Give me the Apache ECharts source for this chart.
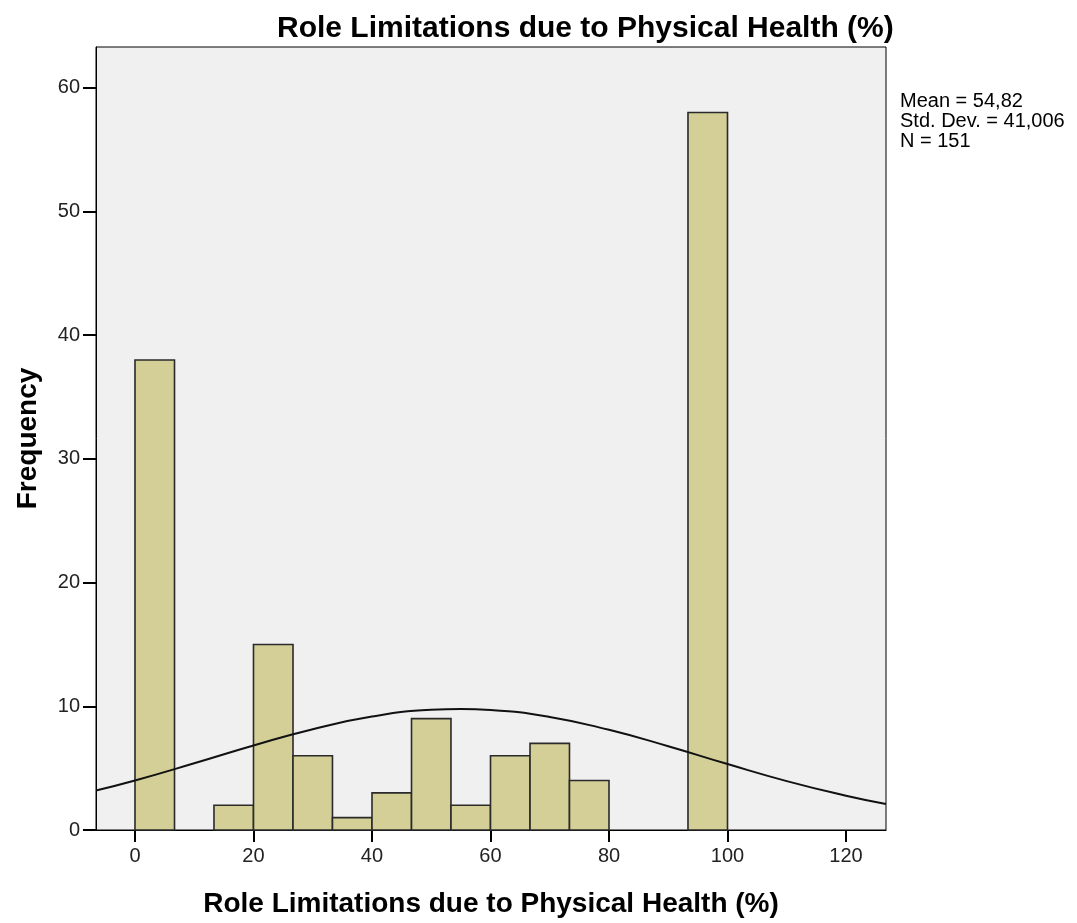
<!DOCTYPE html>
<html>
<head>
<meta charset="utf-8">
<script src="https://cdn.jsdelivr.net/npm/echarts@6/dist/echarts.min.js"></script>
<style>html,body{margin:0;padding:0;background:#fff}#c{width:1077px;height:923px}</style>
</head>
<body>
<div id="c"></div>
<script>
// Histogram bins (lower edge, upper edge) and frequencies
const binStart = [0, 13.33, 20, 26.67, 33.33, 40, 46.67, 53.33, 60, 66.67, 73.33, 93.33];
const binEnd   = [6.67, 20, 26.67, 33.33, 40, 46.67, 53.33, 60, 66.67, 73.33, 80, 100];
const freq     = [38, 2, 15, 6, 1, 3, 9, 2, 6, 7, 4, 58];
// Normal curve
const curveX = [-6.58, 0, 10, 20, 30, 40, 50, 55, 60, 70, 80, 90, 100, 110, 120, 126.75];
const curveY = [3.19, 4.00, 5.39, 6.83, 8.15, 9.17, 9.72, 9.79, 9.71, 9.14, 8.10, 6.77, 5.33, 3.95, 2.77, 2.10];
const xTicks = [0, 20, 40, 60, 80, 100, 120];
const yTicks = [0, 10, 20, 30, 40, 50, 60];
const statsLines = ['Mean = 54,82', 'Std. Dev. = 41,006', 'N = 151'];
const titleText = 'Role Limitations due to Physical Health (%)';
const xName = 'Role Limitations due to Physical Health (%)';
const yName = 'Frequency';

const font = '"Liberation Sans", Arial, sans-serif';
const chart = echarts.init(document.getElementById('c'), null, {renderer: 'canvas'});
const bars = freq.map((f, i) => [binStart[i], binEnd[i], f]);
chart.setOption({
  animation: false,
  backgroundColor: '#fff',
  title: {
    text: titleText, left: 272, top: 9,
    textStyle: {fontFamily: font, fontSize: 30, fontWeight: 'bold', color: '#000'}
  },
  graphic: [{
    type: 'text', left: 900, top: 91,
    style: {text: statsLines.join('\n'), fontFamily: font, fontSize: 20, lineHeight: 20, fill: '#000'}
  }],
  grid: {
    left: 96, right: 191, top: 47, bottom: 93,
    show: true, backgroundColor: '#f0f0f0', borderColor: '#000', borderWidth: 1
  },
  xAxis: {
    type: 'value', min: -6.58, max: 126.75,
    name: xName, nameLocation: 'middle', nameGap: 60,
    nameTextStyle: {fontFamily: font, fontSize: 28, fontWeight: 'bold', color: '#000'},
    axisLine: {show: true, onZero: false, lineStyle: {color: '#000', width: 1}},
    axisTick: {show: true, length: 12, customValues: xTicks, lineStyle: {color: '#000', width: 2}},
    axisLabel: {customValues: xTicks, fontFamily: font, fontSize: 20, color: '#222', margin: 16},
    splitLine: {show: false}
  },
  yAxis: {
    type: 'value', min: 0, max: 63.3,
    name: yName, nameLocation: 'middle', nameGap: 54,
    nameTextStyle: {fontFamily: font, fontSize: 28, fontWeight: 'bold', color: '#000'},
    axisLine: {show: true, onZero: false, lineStyle: {color: '#000', width: 1}},
    axisTick: {show: true, length: 13, customValues: yTicks, lineStyle: {color: '#000', width: 2}},
    axisLabel: {customValues: yTicks, fontFamily: font, fontSize: 20, color: '#222', margin: 16},
    splitLine: {show: false}
  },
  series: [{
    type: 'custom',
    data: bars,
    renderItem: function (params, api) {
      const p0 = api.coord([api.value(0), api.value(2)]);
      const p1 = api.coord([api.value(1), 0]);
      return {
        type: 'rect',
        shape: {x: p0[0], y: p0[1], width: p1[0] - p0[0], height: p1[1] - p0[1]},
        style: {fill: '#d3cf97', stroke: '#2a2a2a', lineWidth: 1.6}
      };
    },
    encode: {x: [0, 1], y: 2},
    z: 2
  }, {
    type: 'line',
    data: curveX.map((x, i) => [x, curveY[i]]),
    smooth: true, showSymbol: false, symbol: 'none',
    lineStyle: {color: '#111', width: 2},
    clip: true, z: 3
  }]
});
</script>
</body>
</html>
